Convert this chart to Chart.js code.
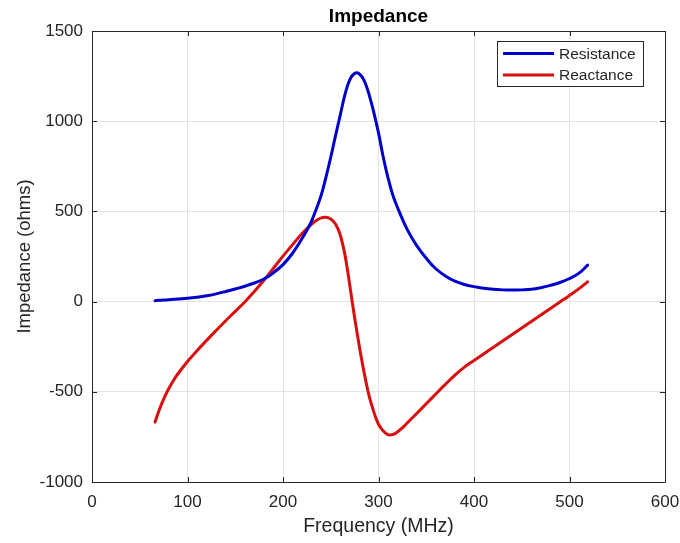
<!DOCTYPE html>
<html>
<head>
<meta charset="utf-8">
<script src="https://cdn.jsdelivr.net/npm/chart.js@4.4.1/dist/chart.umd.min.js"></script>
<style>
  html, body { margin: 0; padding: 0; background: #ffffff; }
  #wrap { width: 680px; height: 543px; position: relative; }
</style>
</head>
<body>
<div id="wrap"><canvas id="c" width="680" height="543"></canvas></div>
<script>
const chartTitle = "Impedance";
const xAxisTitle = "Frequency (MHz)";
const yAxisTitle = "Impedance (ohms)";
const seriesNames = ["Resistance", "Reactance"];
const xTicks = [0, 100, 200, 300, 400, 500, 600];
const yTicks = [-1000, -500, 0, 500, 1000, 1500];

const resistanceFreq = [66, 70, 80, 90, 100, 110, 120, 130, 140, 150, 160, 170, 180, 190, 200, 210, 220, 225, 230, 235, 240, 245, 250, 255, 260, 265, 270, 275, 280, 285, 290, 295, 300, 305, 310, 315, 320, 330, 340, 350, 360, 370, 380, 390, 400, 410, 420, 430, 440, 450, 460, 470, 480, 490, 500, 510, 519];
const resistanceValues = [5, 7, 10, 14, 18, 24, 32, 43, 56, 70, 85, 103, 125, 160, 205, 268, 350, 395, 448, 515, 590, 690, 800, 920, 1035, 1150, 1230, 1265, 1262, 1225, 1150, 1050, 935, 800, 685, 590, 520, 400, 310, 240, 182, 142, 113, 95, 83, 74, 68, 65, 64, 65, 68, 77, 90, 106, 128, 158, 202];

const reactanceFreq = [66, 70, 75, 80, 85, 90, 100, 110, 120, 130, 140, 150, 160, 170, 180, 190, 200, 210, 220, 230, 235, 240, 245, 250, 255, 260, 265, 270, 275, 280, 285, 290, 295, 300, 305, 310, 315, 320, 325, 330, 340, 350, 360, 370, 380, 390, 400, 410, 420, 430, 440, 450, 460, 470, 480, 490, 500, 510, 519];
const reactanceValues = [-668, -606, -541, -486, -440, -400, -332, -272, -215, -160, -106, -54, -2, 56, 118, 185, 252, 316, 378, 430, 450, 464, 467, 458, 430, 368, 255, 88, -90, -250, -395, -520, -610, -680, -717, -737, -737, -722, -700, -673, -620, -566, -512, -459, -407, -363, -326, -290, -254, -218, -182, -146, -110, -74, -38, -2, 34, 72, 110];

const seriesColors = ["#0000cc", "#d90f0f"];
const textColor = "#262626";
const fontFamily = "'Liberation Sans', Arial, sans-serif";

function toPoints(xs, ys) { return xs.map((x, i) => ({ x: x, y: ys[i] })); }

const framePlugin = {
  id: 'frame',
  afterDatasetsDraw(chart) {
    const ctx = chart.ctx;
    const a = chart.chartArea;
    const xs = chart.scales.x, ys = chart.scales.y;
    ctx.save();
    ctx.strokeStyle = textColor;
    ctx.lineWidth = 1;
    ctx.beginPath();
    ctx.rect(Math.round(a.left) + 0.5, Math.round(a.top) + 0.5, Math.round(a.right - a.left), Math.round(a.bottom - a.top));
    ctx.stroke();
    const tl = 5;
    ctx.beginPath();
    xTicks.forEach(v => {
      const px = Math.round(xs.getPixelForValue(v)) + 0.5;
      ctx.moveTo(px, a.bottom); ctx.lineTo(px, a.bottom - tl);
      ctx.moveTo(px, a.top); ctx.lineTo(px, a.top + tl);
    });
    yTicks.forEach(v => {
      const py = Math.round(ys.getPixelForValue(v)) + 0.5;
      ctx.moveTo(a.left, py); ctx.lineTo(a.left + tl, py);
      ctx.moveTo(a.right, py); ctx.lineTo(a.right - tl, py);
    });
    ctx.stroke();

    // title
    ctx.fillStyle = "#000000";
    ctx.font = "bold 19px " + fontFamily;
    ctx.textAlign = "center";
    ctx.textBaseline = "middle";
    ctx.fillText(chartTitle, (a.left + a.right) / 2, 17);

    // legend
    const bx = a.right - 168, by = a.top + 10, bw = 146, bh = 45;
    ctx.fillStyle = "#ffffff";
    ctx.fillRect(bx, by, bw, bh);
    ctx.strokeStyle = textColor;
    ctx.lineWidth = 1;
    ctx.strokeRect(Math.round(bx) + 0.5, Math.round(by) + 0.5, bw, bh);
    ctx.font = "15.5px " + fontFamily;
    ctx.textAlign = "left";
    chart.data.datasets.forEach((ds, i) => {
      const cy = by + 12.5 + i * 21.5;
      ctx.strokeStyle = ds.borderColor;
      ctx.lineWidth = 3;
      ctx.beginPath();
      ctx.moveTo(bx + 6, cy); ctx.lineTo(bx + 57, cy);
      ctx.stroke();
      ctx.fillStyle = textColor;
      ctx.fillText(ds.label, bx + 62, cy + 1);
    });
    ctx.restore();
  }
};

new Chart(document.getElementById('c'), {
  type: 'line',
  data: {
    datasets: [
      { label: seriesNames[0], data: toPoints(resistanceFreq, resistanceValues), borderColor: seriesColors[0], backgroundColor: seriesColors[0], borderWidth: 3, pointRadius: 0, tension: 0.4, fill: false, borderCapStyle: 'round', borderJoinStyle: 'round' },
      { label: seriesNames[1], data: toPoints(reactanceFreq, reactanceValues), borderColor: seriesColors[1], backgroundColor: seriesColors[1], borderWidth: 3, pointRadius: 0, tension: 0.4, fill: false, borderCapStyle: 'round', borderJoinStyle: 'round' }
    ]
  },
  options: {
    responsive: false,
    animation: false,
    events: [],
    layout: { padding: { top: 31, right: 15, left: 0, bottom: 0 } },
    plugins: { legend: { display: false }, title: { display: false }, tooltip: { enabled: false } },
    scales: {
      x: {
        type: 'linear', min: 0, max: 600,
        afterBuildTicks(scale) { scale.ticks = xTicks.map(v => ({ value: v })); },
        afterFit(scale) { scale.height = 61; scale.paddingLeft = 0; scale.paddingRight = 0; },
        grid: { color: '#e3e3e3', drawTicks: false, lineWidth: 1 },
        border: { display: false },
        ticks: { color: textColor, font: { family: fontFamily, size: 17 }, padding: 10, maxRotation: 0, callback: v => String(v) },
        title: { display: true, text: xAxisTitle, color: textColor, font: { family: fontFamily, size: 19.5 }, padding: { top: 0, bottom: 5 } }
      },
      y: {
        type: 'linear', min: -1000, max: 1500,
        afterBuildTicks(scale) { scale.ticks = yTicks.map(v => ({ value: v })); },
        afterFit(scale) { scale.width = 92; scale.paddingTop = 0; scale.paddingBottom = 0; },
        grid: { color: '#e3e3e3', drawTicks: false, lineWidth: 1 },
        border: { display: false },
        ticks: { color: textColor, font: { family: fontFamily, size: 17 }, padding: 9, callback: v => String(v) },
        title: { display: true, text: yAxisTitle, color: textColor, font: { family: fontFamily, size: 18.5 }, padding: { top: 14, bottom: 0 } }
      }
    }
  },
  plugins: [framePlugin]
});
</script>
</body>
</html>
